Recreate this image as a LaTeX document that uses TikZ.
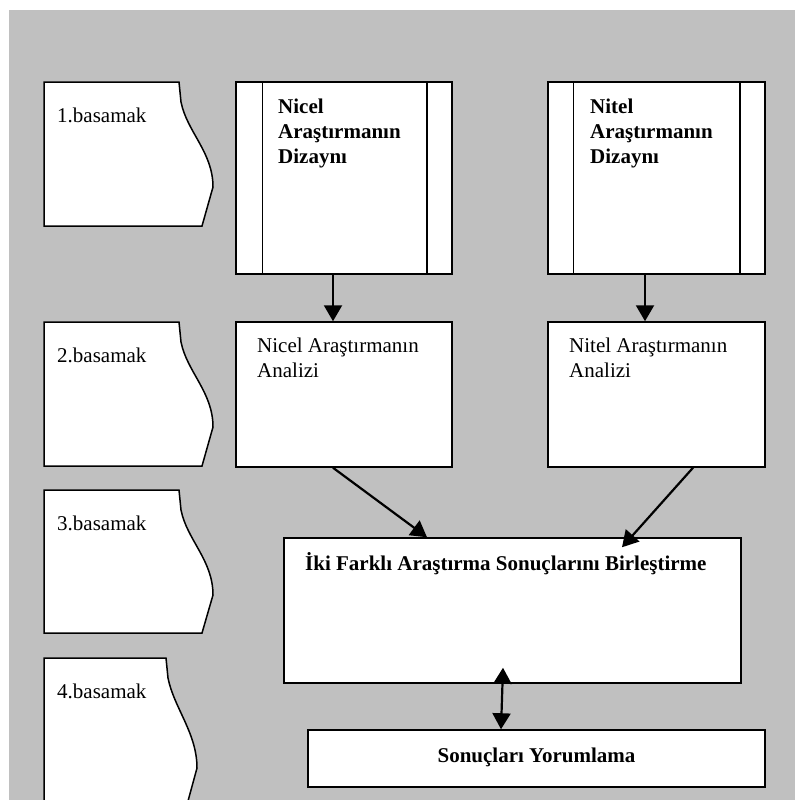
\documentclass[tikz,border=0pt]{standalone}
\usepackage{fontspec}
\setmainfont{Liberation Serif}
\usetikzlibrary{arrows.meta}
\definecolor{bggray}{RGB}{192,192,192}
\tikzset{
  box/.style={draw, line width=1.5pt, fill=white, rectangle, inner sep=0pt},
  lbl/.style={anchor=base west, inner sep=0pt, font=\fontsize{21}{25}\selectfont},
  blbl/.style={anchor=base west, inner sep=0pt, font=\fontsize{21}{25}\selectfont\bfseries},
  conn/.style={line width=2.2pt, -{Triangle[length=16pt,width=18pt]}},
  biconn/.style={line width=2.2pt, {Triangle[length=16pt,width=18pt]}-{Triangle[length=16pt,width=18pt]}},
  stepshape/.style={draw, line width=1.5pt, fill=white},
}
\begin{document}
\begin{tikzpicture}[x=1pt,y=-1pt]
\useasboundingbox (0,0) rectangle (795,800);
\fill[bggray] (9,10) rectangle (795,800);

% step shapes
\path[stepshape, shift={(44,82)}] (0,0) -- (135,0) -- (137,20) .. controls (143,50) and (169,70) .. (169,105) -- (158,144) -- (0,144) -- cycle;
\path[stepshape, shift={(44,322)}] (0,0) -- (135,0) -- (137,20) .. controls (143,50) and (169,70) .. (169,105) -- (158,144) -- (0,144) -- cycle;
\path[stepshape, shift={(44,490)}] (0,0) -- (135,0) -- (137,20) .. controls (143,50) and (169,70) .. (169,105) -- (158,143) -- (0,143) -- cycle;
\begin{scope}
\clip (0,0) rectangle (795,800);
\path[stepshape, shift={(44,658)}] (0,0) -- (122,0) -- (124,20) .. controls (130,50) and (153,75) .. (153,110) -- (138,165) -- (0,165) -- cycle;
\end{scope}
\node[lbl] (s1) at (57,122) {1.basamak};
\node[lbl] (s2) at (57,362) {2.basamak};
\node[lbl] (s3) at (57,530) {3.basamak};
\node[lbl] (s4) at (57,698) {4.basamak};

% design boxes
\node[box, minimum width=216pt, minimum height=192pt] (nicelD) at (344,178) {};
\draw[line width=1.5pt] ([xshift=27pt]nicelD.north west) -- ([xshift=27pt]nicelD.south west);
\draw[line width=1.5pt] ([xshift=-26pt]nicelD.north east) -- ([xshift=-26pt]nicelD.south east);
\node[box, minimum width=217pt, minimum height=192pt] (nitelD) at (656.5,178) {};
\draw[line width=1.5pt] ([xshift=26pt]nitelD.north west) -- ([xshift=26pt]nitelD.south west);
\draw[line width=1.5pt] ([xshift=-26pt]nitelD.north east) -- ([xshift=-26pt]nitelD.south east);
\node[blbl] (t1a) at (278,113) {Nicel};
\node[blbl] (t1b) at (278,138) {Araştırmanın};
\node[blbl] (t1c) at (278,163) {Dizaynı};
\node[blbl] (t2a) at (590,113) {Nitel};
\node[blbl] (t2b) at (590,138) {Araştırmanın};
\node[blbl] (t2c) at (590,163) {Dizaynı};

% analysis boxes
\node[box, minimum width=216pt, minimum height=145pt] (nicelA) at (344,394.5) {};
\node[box, minimum width=217pt, minimum height=145pt] (nitelA) at (656.5,394.5) {};
\node[lbl] (t3a) at (257,352) {Nicel Araştırmanın};
\node[lbl] (t3b) at (257,377) {Analizi};
\node[lbl] (t4a) at (569,352) {Nitel Araştırmanın};
\node[lbl] (t4b) at (569,377) {Analizi};

% combine box
\node[box, minimum width=457pt, minimum height=145pt] (birles) at (512.5,610.5) {};
\node[blbl] (t5) at (305,570) {İki Farklı Araştırma Sonuçlarını Birleştirme};

% result box
\node[box, minimum width=457pt, minimum height=57pt] (yorum) at (536.5,758.5) {};
\node[blbl, anchor=base] (t6) at (536.5,762) {Sonuçları Yorumlama};

% connectors
\draw[conn] ([xshift=-11pt]nicelD.south) -- ([xshift=-11pt]nicelA.north);
\draw[conn] ([xshift=-11.5pt]nitelD.south) -- ([xshift=-11.5pt]nitelA.north);
\draw[conn] ([xshift=-11pt]nicelA.south) -- ([xshift=-85.5pt]birles.north);
\draw[conn] ([xshift=36.5pt]nitelA.south) -- ([xshift=109.5pt,yshift=-10pt]birles.north);
\draw[biconn] ([xshift=-9.5pt,yshift=16pt]birles.south) -- ([xshift=-35.5pt]yorum.north);
\end{tikzpicture}
\end{document}
